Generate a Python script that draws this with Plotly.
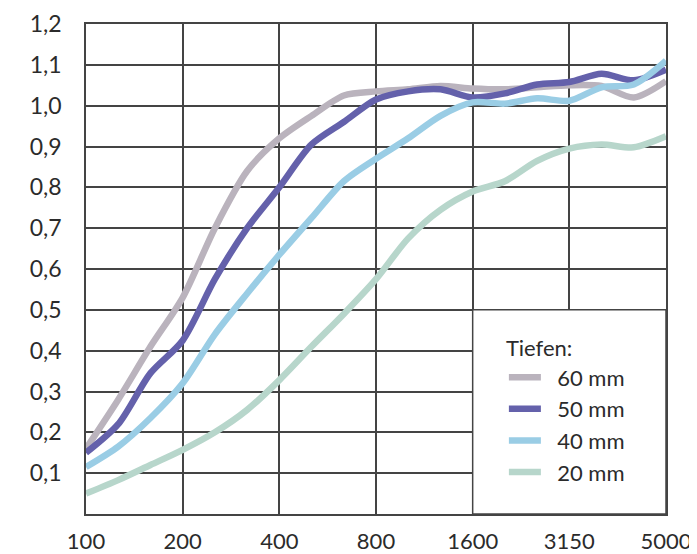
import plotly.graph_objects as go

# Octave steps above 100 Hz (third-octave spacing), tick positions and labels
x_pos = [0, 0.333, 0.667, 1, 1.333, 1.667, 2, 2.333, 2.667, 3, 3.333, 3.667,
         4, 4.333, 4.667, 5, 5.333, 5.667, 6]
tick_pos = [0, 1, 2, 3, 4, 5, 6]
tick_labels = ["100", "200", "400", "800", "1600", "3150", "5000"]

y_ticks = [0.1, 0.2, 0.3, 0.4, 0.5, 0.6, 0.7, 0.8, 0.9, 1.0, 1.1, 1.2]
y_labels = ["0,1", "0,2", "0,3", "0,4", "0,5", "0,6", "0,7", "0,8", "0,9", "1,0", "1,1", "1,2"]

alpha_60 = [0.16, 0.28, 0.41, 0.53, 0.70, 0.84, 0.92, 0.975, 1.025, 1.035, 1.04, 1.048,
            1.042, 1.04, 1.045, 1.05, 1.048, 1.02, 1.06]
alpha_50 = [0.15, 0.22, 0.345, 0.425, 0.575, 0.70, 0.80, 0.905, 0.96, 1.015, 1.035, 1.04,
            1.02, 1.03, 1.052, 1.058, 1.078, 1.062, 1.088]
alpha_40 = [0.115, 0.165, 0.235, 0.32, 0.44, 0.54, 0.635, 0.725, 0.815, 0.87, 0.92, 0.975,
            1.008, 1.005, 1.018, 1.012, 1.045, 1.052, 1.11]
alpha_20 = [0.05, 0.083, 0.12, 0.157, 0.20, 0.255, 0.328, 0.41, 0.49, 0.575, 0.675, 0.745,
            0.79, 0.815, 0.865, 0.895, 0.905, 0.898, 0.925]

series = [
    ("60 mm", alpha_60, "#bab3bd"),
    ("50 mm", alpha_50, "#6461ab"),
    ("40 mm", alpha_40, "#9acde5"),
    ("20 mm", alpha_20, "#b7d6cb"),
]

grid_col = "#444444"
txt_col = "#2b2b2b"
font_fam = "Lato, 'Open Sans', sans-serif"
fs = 23

fig = go.Figure()
for name, vals, col in series:
    fig.add_trace(go.Scatter(
        x=x_pos, y=vals, mode="lines", name="\u00a0\u00a0" + name,
        line=dict(color=col, width=6.5, shape="spline", smoothing=0.8),
        hoverinfo="skip",
    ))

fig.add_shape(type="rect", xref="x", yref="y", x0=4, x1=6, y0=0, y1=0.5,
              fillcolor="white", line=dict(color=grid_col, width=1.5), layer="above")

# page body adds an 8px offset; the figure is sized so the plot area lands at 86..666 x 24..514
fig.update_layout(
    width=689, height=546,
    margin=dict(l=78, r=31, t=16, b=40, autoexpand=False),
    paper_bgcolor="white", plot_bgcolor="white",
    font=dict(family=font_fam, size=fs, color=txt_col),
    showlegend=True,
    legend=dict(
        title=dict(text="Tiefen:", font=dict(size=fs - 1, color=txt_col), side="top"),
        x=0.7205, y=0.38, xanchor="left", yanchor="top",
        bgcolor="rgba(0,0,0,0)", borderwidth=0,
        font=dict(size=fs - 1, color=txt_col),
        itemwidth=32,
    ),
    xaxis=dict(
        range=[0, 6], tickmode="array", tickvals=tick_pos, ticktext=tick_labels,
        showgrid=True, gridcolor=grid_col, gridwidth=1.5,
        showline=True, linecolor=grid_col, linewidth=1.5, mirror=True,
        zeroline=False, ticks="", ticklabelstandoff=7, automargin=False,
        tickfont=dict(size=fs - 1, color=txt_col),
    ),
    yaxis=dict(
        range=[0, 1.2], tickmode="array", tickvals=y_ticks, ticktext=y_labels,
        showgrid=True, gridcolor=grid_col, gridwidth=1.5,
        showline=True, linecolor=grid_col, linewidth=1.5, mirror=True,
        zeroline=False, ticks="", ticklabelstandoff=18, automargin=False,
        tickfont=dict(size=fs, color=txt_col),
    ),
)

fig.write_html("out.html")
